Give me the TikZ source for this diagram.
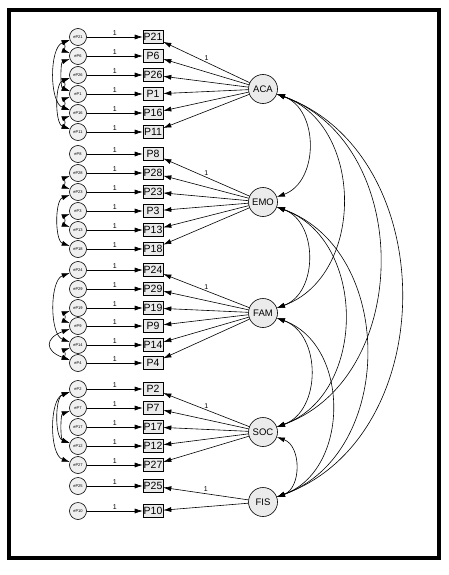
\documentclass[tikz,border=0pt]{standalone}
\usepackage{fontspec}
\setmainfont{Liberation Sans}
\usetikzlibrary{arrows.meta}

\tikzset{
  obs/.style={draw, fill=black!8, minimum width=20pt, minimum height=13pt, inner sep=0.5pt, font=\fontsize{10.5}{10}\selectfont},
  err/.style={circle, draw, fill=black!6, minimum size=17pt, inner sep=0pt, font=\fontsize{4}{4}\selectfont},
  lat/.style={circle, draw, fill=black!8, minimum size=29pt, inner sep=0pt, font=\fontsize{9.5}{10}\selectfont},
  one/.style={font=\fontsize{7}{7}\selectfont, inner sep=1.5pt},
  ecov/.style={<->, out=200, in=160, looseness=0.8},
  lcov/.style={<->, bend left=70, looseness=1.12},
}

\begin{document}
\begin{tikzpicture}[x=1pt, y=1pt, >={Latex[length=8pt,width=5pt]}, line width=0.6pt]
                \useasboundingbox (0,0) rectangle (449,-575);
                \draw[line width=4.5pt] (9,-10) rectangle (439,-558);

                % latent factors
                \node[lat] (aca) at (263,-89) {ACA};
                \node[lat] (emo) at (263,-202) {EMO};
                \node[lat] (fam) at (263,-313) {FAM};
                \node[lat] (soc) at (263,-432) {SOC};
                \node[lat] (fis) at (263,-502) {FIS};

                % items
                \node[obs] (p21) at (153,-37) {P21};
                \node[obs] (p6) at (153,-56) {P6};
                \node[obs] (p26) at (153,-75) {P26};
                \node[obs] (p1) at (153,-94) {P1};
                \node[obs] (p16) at (153,-113) {P16};
                \node[obs] (p11) at (153,-132) {P11};
                \node[obs] (p8) at (153,-154) {P8};
                \node[obs] (p28) at (153,-173) {P28};
                \node[obs] (p23) at (153,-192) {P23};
                \node[obs] (p3) at (153,-211) {P3};
                \node[obs] (p13) at (153,-230) {P13};
                \node[obs] (p18) at (153,-249) {P18};
                \node[obs] (p24) at (153,-270) {P24};
                \node[obs] (p29) at (153,-289) {P29};
                \node[obs] (p19) at (153,-308) {P19};
                \node[obs] (p9) at (153,-326) {P9};
                \node[obs] (p14) at (153,-345) {P14};
                \node[obs] (p4) at (153,-363) {P4};
                \node[obs] (p2) at (153,-389) {P2};
                \node[obs] (p7) at (153,-408) {P7};
                \node[obs] (p17) at (153,-427) {P17};
                \node[obs] (p12) at (153,-446) {P12};
                \node[obs] (p27) at (153,-465) {P27};
                \node[obs] (p25) at (153,-486) {P25};
                \node[obs] (p10) at (153,-511) {P10};

                % errors
                \node[err] (ep21) at (78,-37) {eP21};
                \node[err] (ep6) at (78,-56) {eP6};
                \node[err] (ep26) at (78,-75) {eP26};
                \node[err] (ep1) at (78,-94) {eP1};
                \node[err] (ep16) at (78,-113) {eP16};
                \node[err] (ep11) at (78,-132) {eP11};
                \node[err] (ep8) at (78,-154) {eP8};
                \node[err] (ep28) at (78,-173) {eP28};
                \node[err] (ep23) at (78,-192) {eP23};
                \node[err] (ep3) at (78,-211) {eP3};
                \node[err] (ep13) at (78,-230) {eP13};
                \node[err] (ep18) at (78,-249) {eP18};
                \node[err] (ep24) at (78,-270) {eP24};
                \node[err] (ep29) at (78,-289) {eP29};
                \node[err] (ep19) at (78,-308) {eP19};
                \node[err] (ep9) at (78,-326) {eP9};
                \node[err] (ep14) at (78,-345) {eP14};
                \node[err] (ep4) at (78,-363) {eP4};
                \node[err] (ep2) at (78,-389) {eP2};
                \node[err] (ep7) at (78,-408) {eP7};
                \node[err] (ep17) at (78,-427) {eP17};
                \node[err] (ep12) at (78,-446) {eP12};
                \node[err] (ep27) at (78,-465) {eP27};
                \node[err] (ep25) at (78,-486) {eP25};
                \node[err] (ep10) at (78,-511) {eP10};

                % error paths
                \draw[->] (ep21) to node[above, one] {1} (p21);
                \draw[->] (ep6) to node[above, one] {1} (p6);
                \draw[->] (ep26) to node[above, one] {1} (p26);
                \draw[->] (ep1) to node[above, one] {1} (p1);
                \draw[->] (ep16) to node[above, one] {1} (p16);
                \draw[->] (ep11) to node[above, one] {1} (p11);
                \draw[->] (ep8) to node[above, one] {1} (p8);
                \draw[->] (ep28) to node[above, one] {1} (p28);
                \draw[->] (ep23) to node[above, one] {1} (p23);
                \draw[->] (ep3) to node[above, one] {1} (p3);
                \draw[->] (ep13) to node[above, one] {1} (p13);
                \draw[->] (ep18) to node[above, one] {1} (p18);
                \draw[->] (ep24) to node[above, one] {1} (p24);
                \draw[->] (ep29) to node[above, one] {1} (p29);
                \draw[->] (ep19) to node[above, one] {1} (p19);
                \draw[->] (ep9) to node[above, one] {1} (p9);
                \draw[->] (ep14) to node[above, one] {1} (p14);
                \draw[->] (ep4) to node[above, one] {1} (p4);
                \draw[->] (ep2) to node[above, one] {1} (p2);
                \draw[->] (ep7) to node[above, one] {1} (p7);
                \draw[->] (ep17) to node[above, one] {1} (p17);
                \draw[->] (ep12) to node[above, one] {1} (p12);
                \draw[->] (ep27) to node[above, one] {1} (p27);
                \draw[->] (ep25) to node[above, one] {1} (p25);
                \draw[->] (ep10) to node[above, one] {1} (p10);

                % loadings
                \draw[->] (aca) to node[above, one] {1} (p21);
                \draw[->] (aca) to (p6);
                \draw[->] (aca) to (p26);
                \draw[->] (aca) to (p1);
                \draw[->] (aca) to (p16);
                \draw[->] (aca) to (p11);
                \draw[->] (emo) to node[above, one] {1} (p8);
                \draw[->] (emo) to (p28);
                \draw[->] (emo) to (p23);
                \draw[->] (emo) to (p3);
                \draw[->] (emo) to (p13);
                \draw[->] (emo) to (p18);
                \draw[->] (fam) to node[above, one] {1} (p24);
                \draw[->] (fam) to (p29);
                \draw[->] (fam) to (p19);
                \draw[->] (fam) to (p9);
                \draw[->] (fam) to (p14);
                \draw[->] (fam) to (p4);
                \draw[->] (soc) to node[above, one] {1} (p2);
                \draw[->] (soc) to (p7);
                \draw[->] (soc) to (p17);
                \draw[->] (soc) to (p12);
                \draw[->] (soc) to (p27);
                \draw[->] (fis) to node[above, one] {1} (p25);
                \draw[->] (fis) to (p10);

                % error covariances
                \draw[ecov] (ep21) to (ep6);
                \draw[ecov] (ep21) to (ep16);
                \draw[ecov] (ep6) to (ep1);
                \draw[ecov] (ep26) to (ep1);
                \draw[ecov] (ep26) to (ep11);
                \draw[ecov] (ep1) to (ep16);
                \draw[ecov] (ep16) to (ep11);
                \draw[ecov] (ep28) to (ep23);
                \draw[ecov] (ep23) to (ep18);
                \draw[ecov] (ep3) to (ep13);
                \draw[ecov] (ep24) to (ep14);
                \draw[ecov] (ep19) to (ep9);
                \draw[ecov, looseness=2.2] (ep9) to (ep4);
                \draw[ecov] (ep14) to (ep4);
                \draw[ecov] (ep2) to (ep12);
                \draw[ecov] (ep2) to (ep27);
                \draw[ecov] (ep7) to (ep12);

                % factor covariances
                \draw[lcov] (aca) to (emo);
                \draw[lcov] (aca) to (fam);
                \draw[lcov] (aca) to (soc);
                \draw[lcov] (aca) to (fis);
                \draw[lcov] (emo) to (fam);
                \draw[lcov] (emo) to (soc);
                \draw[lcov] (emo) to (fis);
                \draw[lcov] (fam) to (soc);
                \draw[lcov] (fam) to (fis);
                \draw[lcov] (soc) to (fis);
            \end{tikzpicture}
\end{document}
